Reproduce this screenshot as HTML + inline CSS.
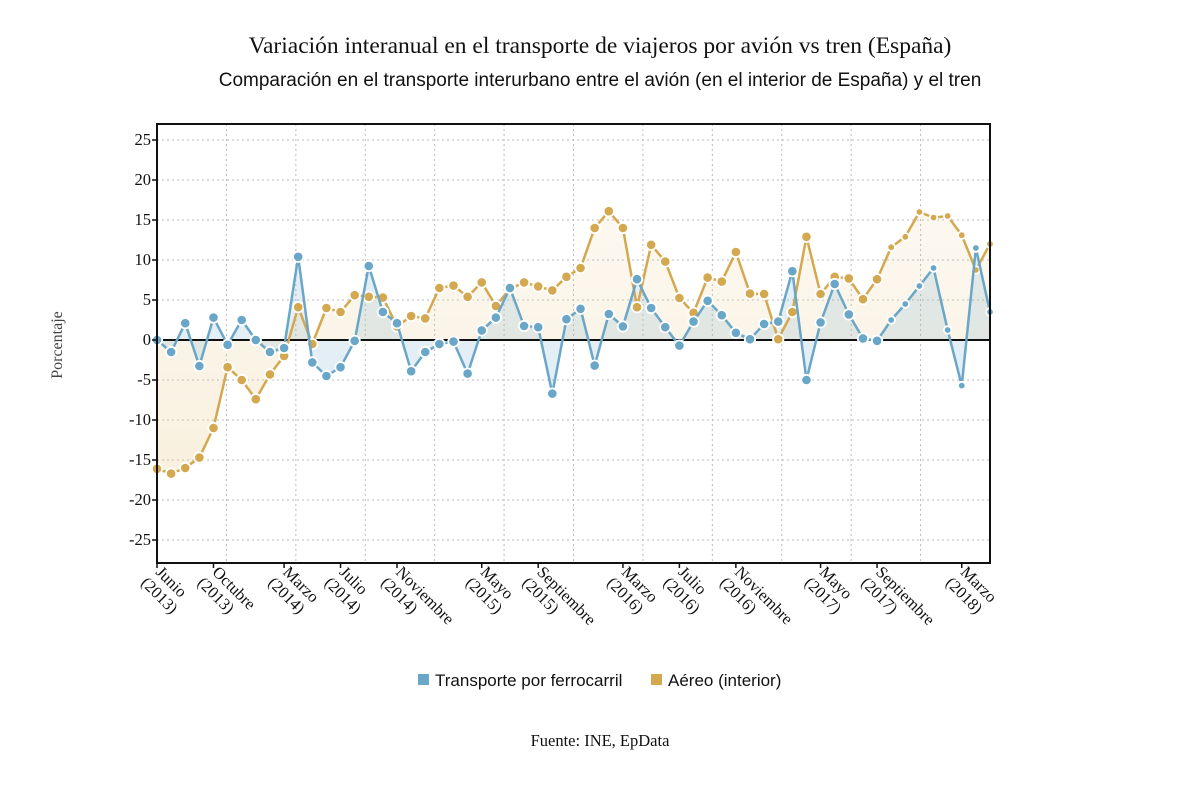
<!DOCTYPE html>
<html><head><meta charset="utf-8"><style>
body{margin:0;background:#fff;}
svg{display:block;}
.serif{font-family:"Liberation Serif",serif;}
.sans{font-family:"Liberation Sans",sans-serif;}
</style></head><body>
<svg id="chart" width="1200" height="809" viewBox="0 0 1200 809" xmlns="http://www.w3.org/2000/svg">
<defs>
<linearGradient id="gBlue" x1="0" y1="0" x2="0" y2="1"><stop offset="0" stop-color="#6aa6c8" stop-opacity="0.18"/><stop offset="1" stop-color="#6aa6c8" stop-opacity="0.18"/></linearGradient>
<linearGradient id="gGold" x1="0" y1="0" x2="0" y2="1"><stop offset="0" stop-color="#e9c98a" stop-opacity="0.12"/><stop offset="1" stop-color="#e9c98a" stop-opacity="0.28"/></linearGradient>
</defs>
<text x="600" y="53" text-anchor="middle" class="serif" font-size="23.5" fill="#111">Variación interanual en el transporte de viajeros por avión vs tren (España)</text>
<text x="600" y="86" text-anchor="middle" class="sans" font-size="19" fill="#111">Comparación en el transporte interurbano entre el avión (en el interior de España) y el tren</text>
<text transform="translate(62,345) rotate(-90)" text-anchor="middle" class="serif" font-size="16" fill="#444">Porcentaje</text>
<g id="grid"></g>
<g id="areas"></g>
<line x1="157" y1="340" x2="990" y2="340" stroke="#111" stroke-width="2"/>
<g id="lines"></g>
<rect x="157" y="124" width="833" height="439" fill="none" stroke="#111" stroke-width="2"/>
<g id="axes"></g>
<g>
<g><rect x="418" y="674" width="11" height="11" fill="#6aa6c8"/><text x="435" y="686" class="sans" font-size="17" fill="#111">Transporte por ferrocarril</text></g>
<g><rect x="651" y="674" width="11" height="11" fill="#d4a84f"/><text x="668" y="686" class="sans" font-size="17" fill="#111">Aéreo (interior)</text></g>
</g>
<text x="600" y="746" text-anchor="middle" class="serif" font-size="16.5" fill="#111">Fuente: INE, EpData</text>
</svg>
<script>
const tickIndices=[0,4,9,13,17,23,27,33,37,41,47,51,57];
const tickMonths=["Junio","Octubre","Marzo","Julio","Noviembre","Mayo","Septiembre","Marzo","Julio","Noviembre","Mayo","Septiembre","Marzo"];
const tickYears=["(2013)","(2013)","(2014)","(2014)","(2014)","(2015)","(2015)","(2016)","(2016)","(2016)","(2017)","(2017)","(2018)"];
const yTicks=[25,20,15,10,5,0,-5,-10,-15,-20,-25];
const tren=[0,-1.5,2.1,-3.25,2.8,-0.6,2.5,0,-1.5,-1.0,10.4,-2.8,-4.5,-3.4,-0.1,9.25,3.5,2.1,-3.9,-1.5,-0.5,-0.2,-4.2,1.2,2.8,6.5,1.75,1.6,-6.7,2.6,3.9,-3.2,3.25,1.7,7.6,4.0,1.6,-0.7,2.3,4.9,3.1,0.9,0.1,2.0,2.3,8.6,-5.0,2.2,7.0,3.2,0.2,-0.1,2.5,4.5,6.75,9.0,1.25,-5.7,11.5,3.5];
const aereo=[-16.1,-16.7,-16.0,-14.7,-11.0,-3.4,-5.0,-7.4,-4.3,-2.0,4.1,-0.5,4.0,3.5,5.6,5.4,5.3,1.7,3.0,2.7,6.5,6.8,5.4,7.2,4.25,6.4,7.2,6.7,6.2,7.9,9.0,14.0,16.1,14.0,4.1,11.9,9.8,5.25,3.4,7.8,7.3,11.0,5.8,5.75,0.1,3.5,12.9,5.75,7.9,7.7,5.1,7.6,11.6,12.9,16.0,15.3,15.5,13.1,8.75,12.0];

const NS="http://www.w3.org/2000/svg";
const X0=157,X1=990,N=tren.length;
function xs(i){return X0+i*(X1-X0)/(N-1);}
function ys(v){return 340-v*8;}
function mk(tag,attrs,parent){const e=document.createElementNS(NS,tag);for(const k in attrs)e.setAttribute(k,attrs[k]);parent.appendChild(e);return e;}
const grid=document.getElementById('grid'),axes=document.getElementById('axes'),areas=document.getElementById('areas'),lines=document.getElementById('lines');
for(const v of yTicks){
  const gl=mk('line',{x1:X0,x2:X1,y1:ys(v),y2:ys(v),stroke:'#bbb','stroke-dasharray':'2,3','stroke-width':1},grid);
  
  
  mk('line',{x1:X0-5,x2:X0,y1:ys(v),y2:ys(v),stroke:'#111','stroke-width':1.5},axes);
  const t=mk('text',{x:X0-6,y:ys(v)+5,'text-anchor':'end','font-size':16.5,fill:'#111','class':'serif'},axes);
  t.textContent=v;
  
  
}
for(let k=1;k<12;k++){
  const x=X0+k*(X1-X0)/12;
  const gl=mk('line',{x1:x,x2:x,y1:124,y2:563,stroke:'#bbb','stroke-dasharray':'2,3','stroke-width':1},grid);
  
  
}
tickIndices.forEach((idx,j)=>{
  const x=xs(idx);
  mk('line',{x1:x,x2:x,y1:563,y2:568,stroke:'#111','stroke-width':1.5},axes);
  const t=mk('text',{transform:`translate(${x-2},573) rotate(45)`,'font-size':16.5,fill:'#111','class':'serif'},axes);
  
  
  const a=mk('tspan',{x:0,dy:0},t);a.textContent=tickMonths[j];
  const b=mk('tspan',{x:-3,dy:18},t);b.textContent=tickYears[j];
});
function drawSeries(data,color,fill,name){
  let d='',ad=`M${xs(0)},${ys(0)}`;
  data.forEach((v,i)=>{d+=(i?'L':'M')+xs(i)+','+ys(v);ad+=`L${xs(i)},${ys(v)}`;});
  ad+=`L${xs(N-1)},${ys(0)}Z`;
  const a=mk('path',{d:ad,fill:fill},areas);
  
  
  const p=mk('path',{d:d,fill:'none',stroke:color,'stroke-width':2.5,'stroke-linejoin':'round'},lines);
  
  
  data.forEach((v,i)=>{
    const c=mk('circle',{cx:xs(i),cy:ys(v),r:i>=52?3.8:5.2,fill:color,stroke:'#fff','stroke-width':1.8},lines);
    
    
  });
}
drawSeries(aereo,'#d4a84f','url(#gGold)','aereo');
drawSeries(tren,'#6aa6c8','url(#gBlue)','tren');
</script>
</body></html>
